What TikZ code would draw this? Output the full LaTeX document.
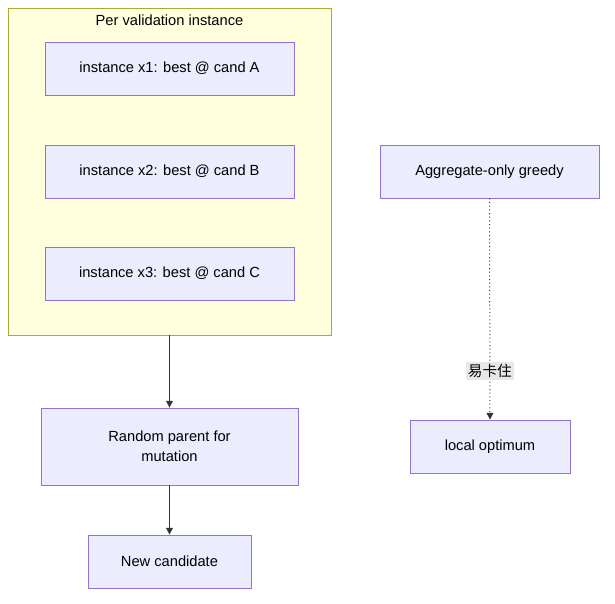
\documentclass[tikz,border=0pt]{standalone}
\usepackage{fontspec}
\setmainfont{Liberation Sans}
\newfontfamily\cjk{Noto Sans CJK SC}
\usetikzlibrary{arrows.meta,positioning}
\definecolor{boxfill}{HTML}{ECECFF}
\definecolor{boxline}{HTML}{9370DB}
\definecolor{clusterfill}{HTML}{FFFFDE}
\definecolor{clusterline}{HTML}{AAAA33}
\definecolor{edgeline}{HTML}{333333}
\tikzset{
  box/.style={draw=boxline, fill=boxfill, line width=0.6pt, align=center,
    inner sep=0pt, font=\fontsize{11}{15}\selectfont},
  flow/.style={-{Triangle[length=5pt,width=5pt]}, draw=edgeline, line width=0.75pt},
}
\begin{document}
\begin{tikzpicture}[x=0.75pt, y=-0.75pt]
			\useasboundingbox (0,0) rectangle (615,604);
			% Cluster
			\node[draw=clusterline, fill=clusterfill, line width=0.6pt, minimum width=323*0.75pt,
			  minimum height=327*0.75pt, inner sep=0pt] (cluster) at (169.5,171.5) {};
			\node[font=\fontsize{11}{12}\selectfont] (title) at (169.5,20) {Per validation instance};
			% Instances
			\node[box, minimum width=249*0.75pt, minimum height=53*0.75pt] (x1) at (169.5,68.5) {instance x1: best @ cand A};
			\node[box, minimum width=249*0.75pt, minimum height=53*0.75pt] (x2) at (169.5,171.5) {instance x2: best @ cand B};
			\node[box, minimum width=249*0.75pt, minimum height=53*0.75pt] (x3) at (169.5,273.5) {instance x3: best @ cand C};
			% Main flow
			\node[box, minimum width=257*0.75pt, minimum height=77*0.75pt] (parent) at (169.5,446.5) {Random parent for\\mutation};
			\node[box, minimum width=163*0.75pt, minimum height=53*0.75pt] (cand) at (169.5,561.5) {New candidate};
			% Greedy side
			\node[box, minimum width=219*0.75pt, minimum height=53*0.75pt] (greedy) at (489.5,171.5) {Aggregate-only greedy};
			\node[box, minimum width=160*0.75pt, minimum height=53*0.75pt] (optimum) at (490,446.5) {local optimum};
			% Arrows
			\draw[flow] (cluster.south) -- (parent.north);
			\draw[flow] (parent.south) -- (cand.north);
			\draw[flow, dotted] (greedy.south) -- (optimum.north)
			  node[pos=0.78, fill=black!9, inner sep=1.5pt, font=\cjk\fontsize{11}{12}\selectfont] {易卡住};
		\end{tikzpicture}
\end{document}
